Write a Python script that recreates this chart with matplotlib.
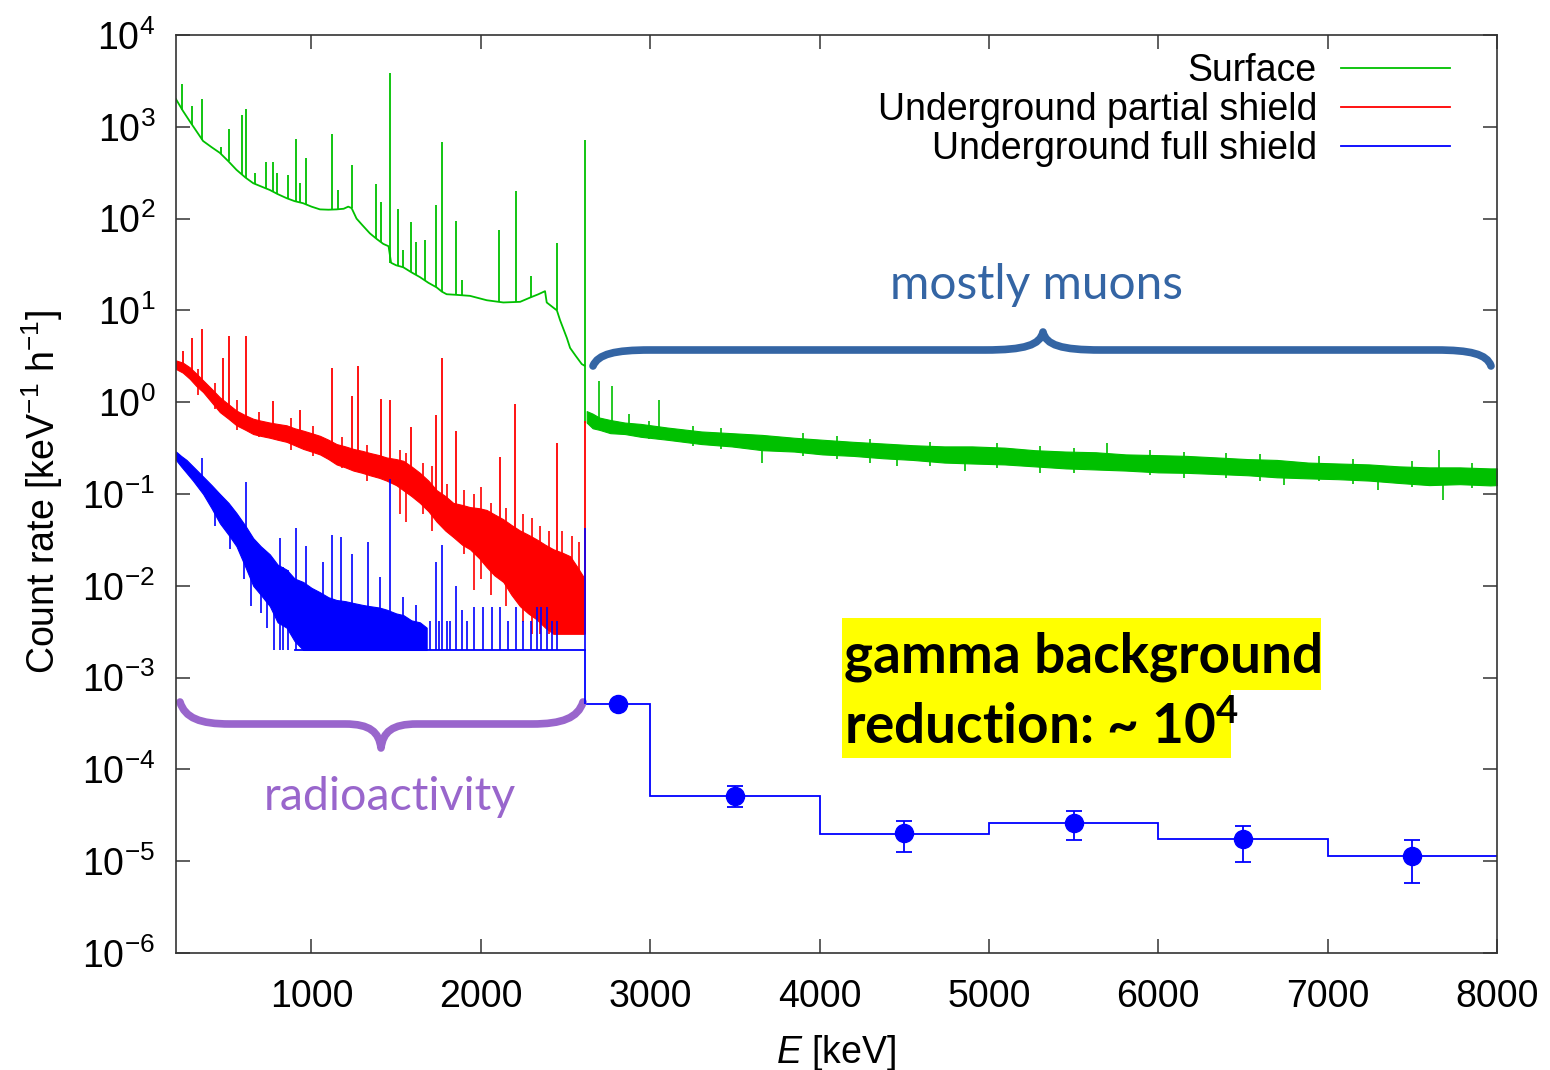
import numpy as np
import matplotlib
matplotlib.use("Agg")
import matplotlib.pyplot as plt
from matplotlib.path import Path
from matplotlib.patches import PathPatch, Rectangle

plt.rcParams['font.family'] = ['Liberation Sans', 'DejaVu Sans']
plt.rcParams['mathtext.fontset'] = 'custom'
plt.rcParams['mathtext.rm'] = 'Liberation Sans'
plt.rcParams['mathtext.it'] = 'Liberation Sans:italic'
plt.rcParams['mathtext.bf'] = 'Liberation Sans:bold'

# ---------------- data ----------------
# Surface: continuum below the 2614 keV line
green_E = [200, 240, 281, 320, 360, 410, 459, 510, 557, 610, 656, 700, 754, 800,
           853, 900, 951, 1000, 1050, 1100, 1148, 1190, 1217, 1237, 1266, 1300,
           1345, 1385, 1424, 1455, 1470, 1500, 1542, 1590, 1641, 1690, 1739, 1770,
           1798, 1850, 1936, 2035, 2133, 2232, 2291, 2340, 2379, 2389, 2420, 2449,
           2468, 2508, 2527, 2560, 2596, 2612]
green_rate = [2000, 1500, 1150, 900, 700, 600, 520, 420, 340, 280, 243, 225, 205, 185,
              167, 155, 147, 135, 126, 125, 126, 128, 135, 130, 100, 85,
              69, 60, 53, 50, 33, 31, 29.5, 26, 23, 20, 17.8, 16,
              15, 14.8, 14.4, 12.9, 12.2, 12.4, 13.8, 15, 16.2, 12.2, 11, 10,
              7.8, 5.0, 3.9, 3.2, 2.6, 2.5]
# Surface: gamma lines
green_peak_E = [238, 297, 354, 468, 514, 587, 616, 669, 734, 770, 797, 862, 911, 935,
                970, 1124, 1157, 1240, 1378, 1408, 1463, 1512, 1542, 1585, 1620, 1670,
                1733, 1768, 1853, 1886, 2108, 2205, 2296, 2447, 2614]
green_peak_top = [2960, 1680, 2000, 610, 935, 1340, 1575, 313, 410, 410, 313, 300, 740, 245,
                  458, 840, 206, 380, 237, 153, 3900, 126, 45, 91, 56, 59,
                  141, 685, 95, 21.5, 75, 200, 23.5, 54, 713]
green_peak_base = [1520, 1050, 720, 500, 420, 300, 275, 240, 212, 200, 186, 165, 153, 149,
                   143, 125, 126, 130, 61, 56, 33, 30.5, 29.5, 26, 24, 21.5,
                   18, 16, 14.8, 14.6, 12.3, 12.3, 13.9, 10, 0.6]
# Surface: muon dominated region (noisy band: lower / upper envelope)
gm_E = [2625, 2660, 2700, 2764, 2850, 2944, 3100, 3302, 3480, 3662, 3850, 4017, 4200,
        4376, 4550, 4737, 4900, 5092, 5270, 5453, 5630, 5808, 6000, 6168, 6350, 6528,
        6700, 6885, 7060, 7245, 7420, 7600, 7780, 7960, 8000]
gm_lo = [0.60, 0.52, 0.50, 0.46, 0.45, 0.42, 0.39, 0.35, 0.33, 0.30, 0.29, 0.27, 0.26,
         0.245, 0.235, 0.22, 0.215, 0.21, 0.20, 0.19, 0.185, 0.18, 0.172, 0.17, 0.165,
         0.16, 0.152, 0.148, 0.145, 0.14, 0.132, 0.125, 0.128, 0.124, 0.125]
gm_hi = [0.80, 0.75, 0.68, 0.64, 0.60, 0.58, 0.53, 0.48, 0.46, 0.44, 0.41, 0.39, 0.37,
         0.355, 0.34, 0.33, 0.33, 0.32, 0.30, 0.29, 0.285, 0.27, 0.265, 0.26, 0.25,
         0.24, 0.235, 0.22, 0.215, 0.21, 0.20, 0.195, 0.195, 0.19, 0.19]
gm_spike_E = [2700, 2772, 2875, 2990, 3050, 3250, 3420, 3662, 3900, 4100, 4300, 4460,
              4650, 4860, 5050, 5300, 5500, 5700, 5950, 6150, 6400, 6600, 6740, 6950,
              7150, 7300, 7500, 7660, 7680, 7850]
gm_spike_lo = [0.55, 0.50, 0.48, 0.40, 0.45, 0.33, 0.31, 0.22, 0.26, 0.24, 0.22, 0.20,
               0.20, 0.18, 0.19, 0.17, 0.17, 0.22, 0.16, 0.15, 0.15, 0.14, 0.125, 0.14,
               0.13, 0.11, 0.12, 0.15, 0.087, 0.115]
gm_spike_hi = [1.70, 1.50, 0.75, 0.62, 1.07, 0.55, 0.52, 0.40, 0.46, 0.43, 0.40, 0.33,
               0.37, 0.30, 0.36, 0.33, 0.32, 0.36, 0.30, 0.29, 0.28, 0.27, 0.22, 0.26,
               0.24, 0.20, 0.23, 0.30, 0.18, 0.22]

# Underground partial shield (noisy band + lines)
red_E = [200, 240, 281, 320, 360, 410, 459, 510, 557, 610, 656, 700, 754, 800, 853,
         900, 951, 1000, 1050, 1100, 1148, 1200, 1247, 1300, 1345, 1400, 1443, 1500,
         1542, 1590, 1640, 1690, 1739, 1790, 1837, 1890, 1936, 1990, 2034, 2080, 2133,
         2180, 2231, 2280, 2330, 2380, 2428, 2480, 2527, 2570, 2612]
red_lo = [2.3, 2.1, 1.8, 1.5, 1.29, 1.0, 0.78, 0.66, 0.56, 0.50, 0.45, 0.43, 0.41, 0.39,
          0.37, 0.34, 0.31, 0.29, 0.27, 0.24, 0.21, 0.195, 0.18, 0.17, 0.16, 0.15, 0.14,
          0.125, 0.11, 0.095, 0.08, 0.065, 0.05, 0.04, 0.034, 0.028, 0.025, 0.02, 0.016,
          0.013, 0.011, 0.008, 0.006, 0.005, 0.0043, 0.0035, 0.003, 0.003, 0.003, 0.003,
          0.003]
red_hi = [2.85, 2.7, 2.4, 2.05, 1.73, 1.4, 1.13, 0.95, 0.81, 0.72, 0.66, 0.63, 0.60,
          0.58, 0.56, 0.52, 0.49, 0.46, 0.43, 0.39, 0.35, 0.33, 0.31, 0.295, 0.28, 0.265,
          0.25, 0.24, 0.23, 0.20, 0.17, 0.14, 0.11, 0.095, 0.08, 0.076, 0.072, 0.07,
          0.067, 0.06, 0.053, 0.046, 0.04, 0.036, 0.032, 0.028, 0.025, 0.023, 0.021,
          0.016, 0.012]
red_peak_E = [244, 295, 354, 477, 513, 616, 770, 931, 1124, 1242, 1275, 1408, 1463, 1585,
              1733, 1768, 1853, 2116, 2201, 2447, 2614]
red_peak_top = [3.6, 5.0, 6.3, 3.0, 5.2, 5.3, 1.04, 0.83, 2.37, 1.16, 2.47, 1.09, 1.07,
                0.54, 0.73, 3.0, 0.48, 0.25, 0.96, 0.36, 0.63]
red_peak_base = [2.4, 2.0, 1.5, 0.95, 0.8, 0.6, 0.5, 0.42, 0.3, 0.25, 0.23, 0.2, 0.19,
                 0.14, 0.08, 0.07, 0.05, 0.02, 0.015, 0.006, 0.003]
# small excursions sticking out of the noisy band
red_noise_E = [330, 430, 560, 690, 880, 1010, 1180, 1330, 1520, 1560, 1660, 1710, 1800,
               1900, 1960, 2000, 2060, 2150, 2250, 2300, 2350, 2400, 2480, 2540, 2580]
red_noise_lo = [1.2, 0.85, 0.5, 0.42, 0.3, 0.26, 0.19, 0.14, 0.06, 0.05, 0.06, 0.04,
                0.044, 0.022, 0.009, 0.012, 0.008, 0.006, 0.004, 0.003, 0.003, 0.003,
                0.003, 0.003, 0.003]
red_noise_hi = [2.3, 1.6, 1.05, 0.78, 0.68, 0.55, 0.42, 0.34, 0.3, 0.28, 0.22, 0.2,
                0.13, 0.11, 0.1, 0.12, 0.08, 0.07, 0.06, 0.055, 0.045, 0.04, 0.04, 0.035,
                0.03]

# Underground full shield (noisy band, floor, lines, then binned high-energy part)
blue_E = [200, 230, 262, 300, 360, 410, 459, 510, 557, 610, 656, 700, 754, 800, 853,
          900, 951, 1000, 1050, 1100, 1148, 1200, 1247, 1300, 1345, 1400, 1443, 1500,
          1542, 1590, 1640, 1680]
blue_lo = [0.235, 0.20, 0.17, 0.14, 0.10, 0.07, 0.048, 0.036, 0.027, 0.016, 0.010,
           0.008, 0.006, 0.004, 0.0035, 0.0025, 0.002, 0.002, 0.002, 0.002, 0.002,
           0.002, 0.002, 0.002, 0.002, 0.002, 0.002, 0.002, 0.002, 0.002, 0.002, 0.002]
blue_hi = [0.29, 0.26, 0.235, 0.20, 0.155, 0.125, 0.10, 0.08, 0.062, 0.045, 0.033,
           0.027, 0.022, 0.017, 0.015, 0.012, 0.011, 0.0095, 0.0085, 0.0075, 0.007,
           0.0068, 0.0065, 0.0062, 0.006, 0.0058, 0.0055, 0.005, 0.0048, 0.0042, 0.004,
           0.0035]
blue_floor_E = [900, 2614]
blue_floor = [0.002, 0.002]
blue_peak_E = [354, 616, 813, 911, 970, 1069, 1124, 1177, 1242, 1335, 1404, 1463, 1542,
               1620, 1700, 1733, 1750, 1768, 1800, 1820, 1853, 1888, 1920, 1959, 2014,
               2063, 2112, 2160, 2207, 2250, 2299, 2329, 2358, 2388, 2420, 2447, 2614]
blue_peak_top = [0.245, 0.134, 0.033, 0.043, 0.027, 0.018, 0.036, 0.034, 0.022, 0.030,
                 0.0126, 0.145, 0.0076, 0.0062, 0.0041, 0.018, 0.0041, 0.028, 0.0041,
                 0.0041, 0.010, 0.0055, 0.0041, 0.0059, 0.0059, 0.0059, 0.0059, 0.0041,
                 0.0059, 0.0041, 0.0041, 0.0059, 0.0059, 0.0059, 0.0041, 0.0041, 0.043]
blue_peak_base = [0.15, 0.02] + [0.002] * 35
# downward excursions of the noisy blue band
blue_noise_E = [430, 520, 600, 645, 700, 740, 780, 830, 860]
blue_noise_lo = [0.045, 0.025, 0.012, 0.006, 0.005, 0.0035, 0.002, 0.002, 0.002]
blue_noise_hi = [0.1, 0.07, 0.045, 0.03, 0.025, 0.02, 0.018, 0.016, 0.015]

step_edges = [2614, 3000, 4000, 5000, 6000, 7000, 8000]
step_rate = [5.1e-4, 5.1e-5, 2.0e-5, 2.6e-5, 1.74e-5, 1.15e-5]
pts_E = [2807, 3500, 4500, 5500, 6500, 7500]
pts_rate = [5.1e-4, 5.1e-5, 2.04e-5, 2.63e-5, 1.74e-5, 1.15e-5]
pts_err_lo = [4.9e-4, 3.9e-5, 1.26e-5, 1.7e-5, 9.8e-6, 5.8e-6]
pts_err_hi = [5.3e-4, 6.6e-5, 2.75e-5, 3.5e-5, 2.4e-5, 1.7e-5]

labels = ['Surface', 'Underground partial shield', 'Underground full shield']
GREEN, RED, BLUE = '#00c000', '#ff0000', '#0000ff'

# ---------------- figure ----------------
fig = plt.figure(figsize=(15.5, 10.7), dpi=100)
ax = fig.add_axes([176 / 1550, 1 - 953 / 1070, 1321 / 1550, 918 / 1070])

# surface
ax.plot(green_E, green_rate, color=GREEN, lw=1.3, label=labels[0])
ax.vlines(green_peak_E, green_peak_base, green_peak_top, color=GREEN, lw=1.3)
ax.fill_between(gm_E, gm_lo, gm_hi, color=GREEN, lw=0.8)
ax.vlines(gm_spike_E, gm_spike_lo, gm_spike_hi, color=GREEN, lw=1.2)

# partial shield
ax.fill_between(red_E, red_lo, red_hi, color=RED, lw=0.8)
ax.vlines(red_noise_E, red_noise_lo, red_noise_hi, color=RED, lw=1.2)
ax.vlines(red_peak_E, red_peak_base, red_peak_top, color=RED, lw=1.3)
ax.plot([], [], color=RED, lw=1.3, label=labels[1])

# full shield
ax.fill_between(blue_E, blue_lo, blue_hi, color=BLUE, lw=0.8)
ax.vlines(blue_noise_E, blue_noise_lo, blue_noise_hi, color=BLUE, lw=1.2)
ax.plot(blue_floor_E, blue_floor, color=BLUE, lw=1.3)
ax.vlines(blue_peak_E, blue_peak_base, blue_peak_top, color=BLUE, lw=1.2)
ax.vlines(step_edges[0], step_rate[0], blue_floor[-1], color=BLUE, lw=1.3)
ax.stairs(step_rate, step_edges, baseline=None, color=BLUE, lw=1.3, label=labels[2])
yerr = [np.array(pts_rate) - np.array(pts_err_lo), np.array(pts_err_hi) - np.array(pts_rate)]
ax.errorbar(pts_E, pts_rate, yerr=yerr, fmt='o', color=BLUE, ms=13, capsize=6,
            elinewidth=1.3, capthick=1.3)

ax.set_yscale('log')
ax.set_xlim(200, 8000)
ax.set_ylim(1e-6, 1e4)
ax.set_xticks([1000, 2000, 3000, 4000, 5000, 6000, 7000, 8000])
ax.set_yticks([10.0 ** k for k in range(-6, 5)])
ax.minorticks_off()
ax.tick_params(axis='both', which='major', direction='in', length=10, width=1.1,
               top=True, right=True, labelsize=27, color='#333333')
ax.tick_params(axis='x', pad=19)
ax.tick_params(axis='y', pad=15)
for s in ax.spines.values():
    s.set_linewidth(1.2)
    s.set_color('#333333')

ax.set_xlabel(r'$\mathit{E}$ [keV]', fontsize=27)
ax.xaxis.set_label_coords(0.5, -0.087)
ax.set_ylabel(r'Count rate [keV$^{\mathdefault{-1}}$ h$^{\mathdefault{-1}}$]', fontsize=27)
ax.yaxis.set_label_coords(-0.084, 0.502)

ax.legend(loc='upper right', bbox_to_anchor=((1450 - 176) / 1321, 1 - 18 / 918),
          markerfirst=False, frameon=False, fontsize=27, handlelength=2.9,
          handletextpad=0.65, labelspacing=0.08, borderpad=0, borderaxespad=0)


# ---------------- annotations ----------------
def pax(px, py):
    return ((px - 176) / 1321, 1 - (py - 35) / 918)


def brace(points, color):
    codes = [Path.MOVETO] + [Path.CURVE4] * 3 + [Path.LINETO] + [Path.CURVE4] * 6 + \
            [Path.LINETO] + [Path.CURVE4] * 3
    verts = [pax(x, y) for x, y in points]
    ax.add_patch(PathPatch(Path(verts, codes), fill=False, edgecolor=color, lw=5.5,
                           capstyle='round', joinstyle='round',
                           transform=ax.transAxes, clip_on=False))


brace([(593, 366), (598, 354), (615, 350), (650, 350), (985, 350), (1025, 350),
       (1040, 345), (1043, 332), (1046, 345), (1061, 350), (1101, 350), (1436, 350),
       (1470, 350), (1487, 354), (1491, 366)], '#3465a4')
brace([(180, 702), (185, 718), (200, 724), (230, 724), (345, 724), (370, 724),
       (379, 732), (381, 748), (383, 732), (392, 724), (417, 724), (532, 724),
       (562, 724), (578, 718), (583, 702)], '#9966cc')

ax.text(*pax(1037, 285), 'mostly muons', family=['Lato', 'DejaVu Sans'], fontsize=34.5,
        color='#3465a4', ha='center', va='center', transform=ax.transAxes)
ax.text(*pax(390, 797), 'radioactivity', family=['Lato', 'DejaVu Sans'], fontsize=33.5,
        color='#9966cc', ha='center', va='center', transform=ax.transAxes)

ax.add_patch(Rectangle(pax(842, 690), (1321 - 842) / 1321, 72 / 918, color='#ffff00',
                       transform=ax.transAxes, lw=0))
ax.add_patch(Rectangle(pax(842, 758), (1231 - 842) / 1321, 68 / 918, color='#ffff00',
                       transform=ax.transAxes, lw=0))
ax.text(*pax(844, 673), 'gamma background', family=['Lato', 'DejaVu Sans'],
        fontweight='bold', fontsize=39.5, color='black', ha='left', va='baseline',
        transform=ax.transAxes)
ax.text(*pax(844, 744), r'reduction: ~ 10$^{\mathdefault{4}}$', family=['Lato', 'DejaVu Sans'],
        fontweight='bold', fontsize=39.5, color='black', ha='left', va='baseline',
        transform=ax.transAxes)

fig.savefig('out.png', dpi=100)
